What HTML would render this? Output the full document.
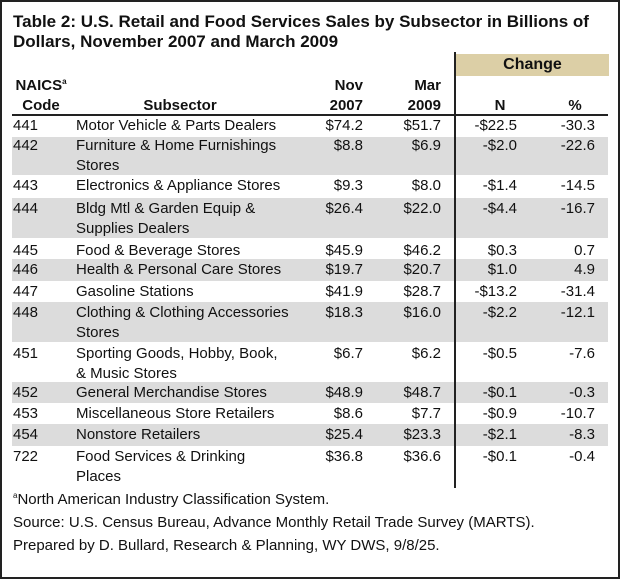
<!DOCTYPE html>
<html><head><meta charset="utf-8"><style>
body{margin:0;width:620px;height:579px;background:#fff;overflow:hidden}
#f{position:absolute;left:0;top:0;width:616px;height:575px;border:2px solid #222;background:#fff}
.t{position:absolute;font-family:"Liberation Sans",sans-serif;font-size:15px;color:#111;white-space:nowrap;line-height:20px}
.b{font-weight:bold}
.r{text-align:right}
.sh{position:absolute;left:12px;width:596px;background:#dcdcdc}
sup{font-size:8px;line-height:0;vertical-align:6px}
</style></head><body><div id="f"></div>
<div class="t b" style="left:13px;top:12px;font-size:17px;line-height:20px">Table 2: U.S. Retail and Food Services Sales by Subsector in Billions of<br>Dollars, November 2007 and March 2009</div>
<div style="position:absolute;left:456px;top:54px;width:153px;height:22px;background:#dccfa6"></div>
<div class="t b" style="left:456px;top:55px;width:153px;text-align:center;font-size:16px">Change</div>
<div class="sh" style="top:137px;height:38px"></div>
<div class="sh" style="top:198px;height:40px"></div>
<div class="sh" style="top:259px;height:22px"></div>
<div class="sh" style="top:302px;height:40px"></div>
<div class="sh" style="top:382px;height:21px"></div>
<div class="sh" style="top:424px;height:22px"></div>
<div style="position:absolute;left:12px;top:114px;width:596px;height:2px;background:#222"></div>
<div style="position:absolute;left:454px;top:52px;width:2px;height:436px;background:#222"></div>
<div class="t b" style="left:12px;top:76px;width:58px;text-align:center;font-size:15px">NAICS<sup>a</sup><br>Code</div>
<div class="t b" style="left:100px;top:96px;width:160px;text-align:center">Subsector</div>
<div class="t b r" style="left:300px;top:76px;width:63px">Nov<br>2007</div>
<div class="t b r" style="left:380px;top:76px;width:61px">Mar<br>2009</div>
<div class="t b" style="left:470px;top:96px;width:60px;text-align:center">N</div>
<div class="t b" style="left:550px;top:96px;width:50px;text-align:center">%</div>
<div id="rows"></div>
<script>
var R=[[116,"441","Motor Vehicle &amp; Parts Dealers","$74.2","$51.7","-$22.5","-30.3"],
[136,"442","Furniture &amp; Home Furnishings<br>Stores","$8.8","$6.9","-$2.0","-22.6"],
[176,"443","Electronics &amp; Appliance Stores","$9.3","$8.0","-$1.4","-14.5"],
[199,"444","Bldg Mtl &amp; Garden Equip &amp;<br>Supplies Dealers","$26.4","$22.0","-$4.4","-16.7"],
[241,"445","Food &amp; Beverage Stores","$45.9","$46.2","$0.3","0.7"],
[260,"446","Health &amp; Personal Care Stores","$19.7","$20.7","$1.0","4.9"],
[282,"447","Gasoline Stations","$41.9","$28.7","-$13.2","-31.4"],
[303,"448","Clothing &amp; Clothing Accessories<br>Stores","$18.3","$16.0","-$2.2","-12.1"],
[344,"451","Sporting Goods, Hobby, Book,<br>&amp; Music Stores","$6.7","$6.2","-$0.5","-7.6"],
[383,"452","General Merchandise Stores","$48.9","$48.7","-$0.1","-0.3"],
[404,"453","Miscellaneous Store Retailers","$8.6","$7.7","-$0.9","-10.7"],
[425,"454","Nonstore Retailers","$25.4","$23.3","-$2.1","-8.3"],
[447,"722","Food Services &amp; Drinking<br>Places","$36.8","$36.6","-$0.1","-0.4"]];
var h="";R.forEach(function(r){var y=r[0];
h+='<div class="t" style="left:13px;top:'+y+'px">'+r[1]+'</div>';
h+='<div class="t" style="left:76px;top:'+y+'px">'+r[2]+'</div>';
h+='<div class="t r" style="left:290px;width:73px;top:'+y+'px">'+r[3]+'</div>';
h+='<div class="t r" style="left:370px;width:71px;top:'+y+'px">'+r[4]+'</div>';
h+='<div class="t r" style="left:450px;width:67px;top:'+y+'px">'+r[5]+'</div>';
h+='<div class="t r" style="left:530px;width:65px;top:'+y+'px">'+r[6]+'</div>';});
document.getElementById("rows").innerHTML=h;
</script>
<div class="t" style="left:13px;top:488px;line-height:23px"><sup>a</sup>North American Industry Classification System.<br>Source: U.S. Census Bureau, Advance Monthly Retail Trade Survey (MARTS).<br>Prepared by D. Bullard, Research &amp; Planning, WY DWS, 9/8/25.</div>
</body></html>
